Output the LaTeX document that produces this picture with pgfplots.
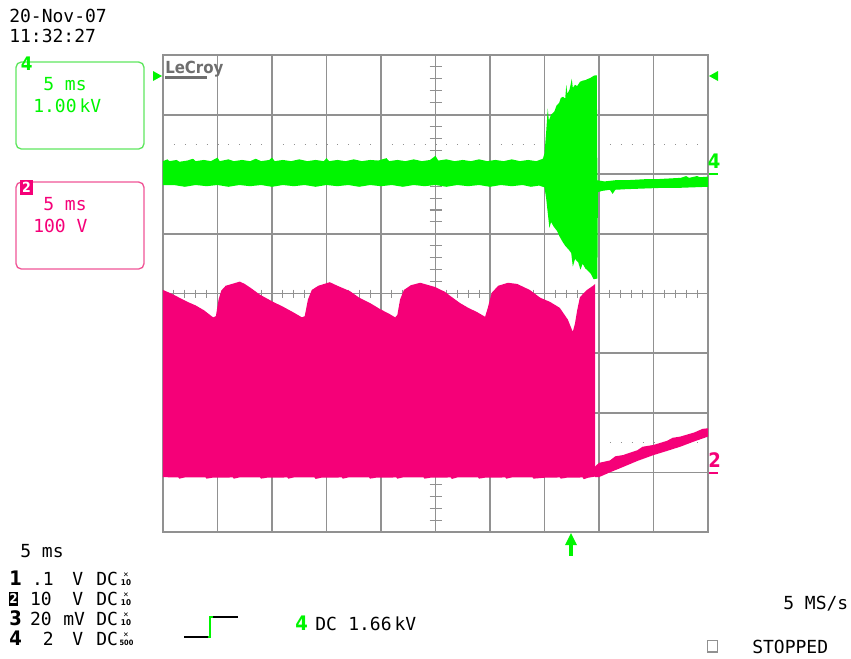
\documentclass[border=0pt]{standalone}
\usepackage{pgfplots}
\pgfplotsset{compat=1.18}
\usepackage{fontspec}
\setmainfont{DejaVu Sans Mono}
\newfontfamily\monofnt{DejaVu Sans Mono}
\newfontfamily\condfnt{DejaVu Sans Condensed}
\definecolor{sgreen}{RGB}{0,245,0}
\definecolor{spink}{RGB}{245,0,120}
\definecolor{bgreen}{RGB}{95,230,95}
\definecolor{bpink}{RGB}{240,85,150}
\definecolor{gridgray}{RGB}{145,145,145}
\definecolor{logogray}{RGB}{110,110,110}
\newcommand\fsz[1]{\fontsize{#1}{#1}\selectfont}
\begin{document}
\begin{tikzpicture}
\begin{scope}[x=0.75pt,y=-0.75pt]
\path[use as bounding box] (0,0) rectangle (851,658);
% reference dotted rows
\draw[gridgray, line width=0.9pt, dash pattern=on 0.75pt off 7.425pt] (173.9,144.4) -- (708,144.4);
\draw[gridgray, line width=0.9pt, dash pattern=on 0.75pt off 7.425pt] (173.9,442.6) -- (708,442.6);
% centre ticks
\foreach \k in {1,...,39} \draw[gridgray, line width=0.8pt] (429.5,{532-\k*11.925}) -- (441.5,{532-\k*11.925});
\foreach \k in {1,...,49} \draw[gridgray, line width=0.8pt] ({163+\k*10.9},289.5) -- ({163+\k*10.9},297.5);
\end{scope}
\begin{axis}[
  at={(122.25pt,-399pt)}, anchor=south west,
  width=408.75pt, height=357.75pt, scale only axis,
  xmin=0, xmax=10, ymin=0, ymax=8,
  xtick={0,...,10}, ytick={0,...,8},
  xticklabels={}, yticklabels={},
  major tick length=0pt,
  grid=major,
  grid style={gridgray, line width=1.3pt},
  axis line style={gridgray, line width=1.3pt},
]
% channel 4 (green)
\addplot[draw=none, fill=sgreen] coordinates {
(0,5.82) (0,6.22) (0.08,6.25) (0.12,6.22) (0.25,6.24) (0.3,6.21) (0.45,6.23) (0.55,6.26) (0.6,6.22) (0.75,6.24) (0.88,6.22) (1.0,6.28) (1.04,6.22) (1.2,6.25) (1.3,6.22) (1.45,6.24) (1.6,6.22) (1.7,6.26) (1.8,6.22) (1.95,6.24) (2.0,6.28) (2.05,6.22) (2.2,6.24) (2.35,6.22) (2.5,6.25) (2.65,6.22) (2.8,6.24) (2.95,6.22) (3.0,6.27) (3.05,6.22) (3.2,6.24) (3.35,6.22) (3.5,6.25) (3.65,6.22) (3.8,6.24) (3.95,6.23) (4.1,6.27) (4.15,6.22) (4.3,6.24) (4.45,6.22) (4.6,6.25) (4.75,6.22) (4.9,6.24) (5.0,6.31) (5.05,6.23) (5.2,6.25) (5.35,6.22) (5.5,6.24) (5.65,6.22) (5.8,6.25) (5.95,6.22) (6.1,6.24) (6.25,6.22) (6.4,6.25) (6.55,6.22) (6.7,6.24) (6.85,6.22) (6.97,6.26)
(7.0,6.35) (7.03,6.7) (7.06,7.1) (7.08,6.9) (7.12,7.0) (7.18,7.05) (7.22,7.15) (7.27,7.2) (7.3,7.28) (7.34,7.3) (7.38,7.27) (7.4,7.5) (7.42,7.35) (7.46,7.42) (7.5,7.6) (7.52,7.45) (7.56,7.5) (7.6,7.48) (7.65,7.55) (7.7,7.57) (7.75,7.58) (7.8,7.6) (7.85,7.62) (7.9,7.65) (7.93,7.66) (7.96,7.66) (7.97,5.9)
(8.1,5.88) (8.3,5.9) (8.5,5.9) (8.7,5.91) (8.9,5.92) (9.1,5.92) (9.3,5.93) (9.5,5.94) (9.6,5.97) (9.65,5.94) (9.8,5.97) (9.85,5.95) (10,5.96)
(10,5.79) (9.7,5.78) (9.4,5.77) (9.1,5.77) (8.8,5.76) (8.5,5.75) (8.3,5.74) (8.25,5.67) (8.2,5.74) (8.05,5.72) (7.98,5.70)
(7.97,4.25) (7.9,4.24) (7.85,4.33) (7.8,4.38) (7.75,4.42) (7.7,4.5) (7.66,4.4) (7.62,4.52) (7.56,4.58) (7.52,4.45) (7.49,4.68) (7.44,4.74) (7.38,4.8) (7.33,4.87) (7.28,4.95) (7.23,5.05) (7.17,5.12) (7.12,5.2) (7.09,5.1) (7.06,5.35) (7.03,5.6) (7.0,5.78)
(6.9,5.81) (6.75,5.79) (6.6,5.82) (6.4,5.8) (6.2,5.82) (6.0,5.79) (5.8,5.82) (5.6,5.8) (5.4,5.82) (5.2,5.79) (5.0,5.82) (4.8,5.8) (4.6,5.82) (4.4,5.79) (4.2,5.82) (4.0,5.8) (3.8,5.82) (3.6,5.79) (3.4,5.82) (3.2,5.8) (3.0,5.82) (2.8,5.79) (2.6,5.82) (2.4,5.8) (2.2,5.82) (2.0,5.79) (1.8,5.82) (1.6,5.8) (1.4,5.82) (1.2,5.79) (1.0,5.82) (0.8,5.8) (0.6,5.82) (0.4,5.79) (0.2,5.82)
} -- cycle;
% channel 2 (pink)
\addplot[draw=none, fill=spink] coordinates {
(0,0.92) (0,4.06) (0.15,4.0) (0.3,3.93) (0.45,3.86) (0.6,3.8) (0.75,3.72) (0.92,3.6) (0.97,3.62) (1.02,3.9) (1.07,4.05) (1.15,4.13) (1.3,4.17) (1.41,4.2) (1.5,4.16) (1.6,4.1) (1.78,3.98) (1.9,3.92) (2.02,3.86) (2.2,3.78) (2.4,3.68) (2.55,3.6) (2.6,3.62) (2.66,3.9) (2.73,4.06) (2.85,4.13) (3.06,4.19) (3.2,4.13) (3.43,4.04) (3.6,3.93) (3.8,3.84) (3.98,3.74) (4.15,3.66) (4.26,3.6) (4.3,3.64) (4.35,3.9) (4.42,4.06) (4.55,4.14) (4.72,4.18) (4.99,4.11) (5.17,4.03) (5.3,3.94) (5.45,3.84) (5.6,3.76) (5.76,3.69) (5.91,3.61) (5.96,3.76) (6.03,4.01) (6.15,4.13) (6.33,4.18) (6.5,4.16) (6.73,4.06) (6.92,3.93) (7.1,3.86) (7.28,3.76) (7.43,3.56) (7.5,3.4) (7.52,3.36) (7.56,3.5) (7.6,3.72) (7.65,3.94) (7.78,4.06) (7.89,4.13) (7.93,4.16)
(7.93,0.93) (7.8,0.91) (7.72,0.885) (7.7,0.915) (7.4,0.91) (7.3,0.895) (7.28,0.915) (7.0,0.91) (6.8,0.895) (6.78,0.915) (6.4,0.915) (6.3,0.895) (6.28,0.915) (5.9,0.91) (5.8,0.895) (5.78,0.915) (5.4,0.915) (5.3,0.89) (5.28,0.915) (4.9,0.91) (4.8,0.895) (4.78,0.915) (4.4,0.915) (4.3,0.895) (4.28,0.915) (3.9,0.91) (3.8,0.895) (3.78,0.915) (3.4,0.915) (3.3,0.895) (3.28,0.915) (2.9,0.91) (2.8,0.89) (2.78,0.915) (2.4,0.915) (2.3,0.895) (2.28,0.915) (1.9,0.91) (1.8,0.895) (1.78,0.915) (1.4,0.915) (1.3,0.895) (1.28,0.915) (0.9,0.91) (0.8,0.895) (0.78,0.915) (0.4,0.915) (0.3,0.895) (0.28,0.915)
} -- cycle;
\addplot[draw=none, fill=spink] coordinates {
(7.93,1.1) (8.0,1.16) (8.2,1.2) (8.3,1.27) (8.44,1.29) (8.7,1.37) (8.8,1.43) (9.0,1.46) (9.25,1.53) (9.35,1.58) (9.49,1.6) (9.75,1.67) (9.9,1.73) (10,1.74)
(10,1.6) (9.75,1.52) (9.49,1.43) (9.25,1.36) (9.0,1.29) (8.7,1.19) (8.44,1.09) (8.2,1.0) (8.0,0.92) (7.93,0.92)
} -- cycle;
\end{axis}
\begin{scope}[x=0.75pt,y=-0.75pt]
\tikzset{t/.style={inner sep=0pt, anchor=base west, font=\monofnt\fsz{13.5}}}
% date/time
\node[t] at (9,22) {20-Nov-07};
\node[t] at (9,42) {11:32:27};
% green box
\draw[bgreen, line width=1pt, rounded corners=4pt] (16,62) rectangle (144,149);
\node[t, sgreen, font=\condfnt\bfseries\fsz{14}] at (20.5,70) {4};
\node[t, sgreen] at (43,90) {5 ms};
\node[t, sgreen] at (33,112) {1.00\,kV};
% pink box
\draw[bpink, line width=1pt, rounded corners=4pt] (16,182) rectangle (144,269);
\fill[spink] (20,180) rectangle (33,195);
\node[inner sep=0pt, anchor=base, white, font=\condfnt\bfseries\fsz{10.5}] at (26.5,192) {2};
\node[t, spink] at (43,210) {5 ms};
\node[t, spink] at (33,232) {100 V};
% LeCroy logo
\node[inner sep=0pt, anchor=base west, logogray, font=\condfnt\bfseries\fsz{12.5}] at (165,73) {LeCroy};
\draw[logogray, line width=1.6pt] (165,77.5) -- (207,77.5);
% trigger markers
\fill[sgreen] (162,76) -- (153,71) -- (153,81) -- cycle;
\fill[sgreen] (709,76) -- (718,71) -- (718,81) -- cycle;
\node[t, sgreen, font=\condfnt\bfseries\fsz{15}] at (707.5,168) {4};
\draw[sgreen, line width=1.3pt] (709,174) -- (718,174);
\node[t, spink, font=\condfnt\bfseries\fsz{15}] at (708,467) {2};
\draw[spink, line width=1.3pt] (709,473) -- (718,473);
\fill[sgreen] (565,545) -- (577,545) -- (571,533) -- cycle;
\draw[sgreen, line width=3pt] (571,544) -- (571,556);
% bottom info
\node[t] at (20,557) {5 ms};
\node[t, font=\condfnt\bfseries\fsz{15}] at (9,585) {1};
\fill[black] (9,591.5) rectangle (18,606);
\node[inner sep=0pt, anchor=base, white, font=\condfnt\bfseries\fsz{10}] at (13.5,603.5) {2};
\node[t, font=\condfnt\bfseries\fsz{15}] at (9,625) {3};
\node[t, font=\condfnt\bfseries\fsz{15}] at (9,645) {4};
\node[inner sep=0pt, anchor=base east, font=\monofnt\fsz{13.5}] at (54,585) {.1};
\node[inner sep=0pt, anchor=base east, font=\monofnt\fsz{13.5}] at (52,605) {10};
\node[inner sep=0pt, anchor=base east, font=\monofnt\fsz{13.5}] at (52,625) {20};
\node[inner sep=0pt, anchor=base east, font=\monofnt\fsz{13.5}] at (54,645) {2};
\node[t] at (72,585) {V};
\node[t] at (72,605) {V};
\node[t] at (63,625) {mV};
\node[t] at (72,645) {V};
\foreach \yy in {585,605,625,645} \node[t] at (96,\yy) {DC};
\foreach \yy in {585,605,625} {
  \node[inner sep=0pt, anchor=base, font=\monofnt\fsz{6.5}] at (126,\yy-7.5) {×};
  \node[inner sep=0pt, anchor=base, font=\condfnt\bfseries\fsz{6}] at (126,\yy+0.5) {10};
}
\node[inner sep=0pt, anchor=base, font=\monofnt\fsz{6.5}] at (126,637.5) {×};
\node[inner sep=0pt, anchor=base, font=\condfnt\bfseries\fsz{5.5}] at (126.5,645.5) {500};
% step icon
\draw[black, line width=0.8pt] (184,637) -- (208,637);
\draw[sgreen, line width=1.3pt] (208,637) -- (210,637) -- (210,617) -- (213,617);
\draw[black, line width=0.8pt] (213,617) -- (238,617);
\node[t, sgreen, font=\condfnt\bfseries\fsz{15}] at (295,630) {4};
\node[t] at (315,630) {DC};
\node[t] at (348,630) {1.66\,kV};
\node[t] at (783,609) {5 MS/s};
\draw[gridgray, line width=0.8pt] (707.5,640.5) rectangle (717.5,652);
\node[t] at (752,653) {STOPPED};
\end{scope}
\end{tikzpicture}
\end{document}
